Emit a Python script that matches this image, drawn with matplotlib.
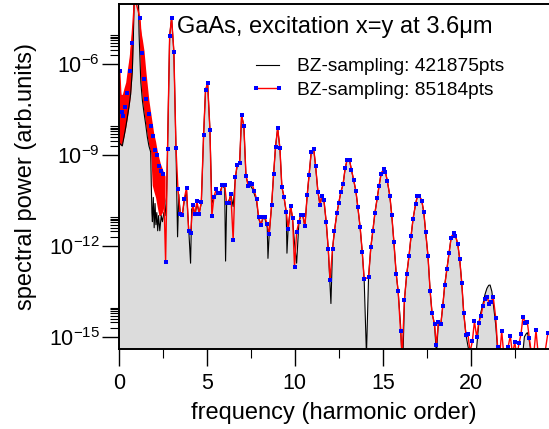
import numpy as np
import matplotlib
matplotlib.use("Agg")
import matplotlib.pyplot as plt
from matplotlib.ticker import FixedLocator, NullFormatter

plt.rcParams['font.family'] = ['Liberation Sans', 'DejaVu Sans']
plt.rcParams['mathtext.fontset'] = 'custom'
plt.rcParams['mathtext.rm'] = 'Liberation Sans'
plt.rcParams['axes.unicode_minus'] = False

# spectrum, 421875 k-points (black, filled); values are log10(power)
black_freq = [0.00, 0.19, 0.38, 0.57, 0.66, 0.76, 0.82, 0.86, 1.10, 1.14, 1.24, 1.33,
              1.42, 1.52, 1.61, 1.70, 1.80, 1.87, 1.90, 1.95, 2.00, 2.05, 2.10, 2.15,
              2.20, 2.25, 2.32, 2.40, 2.47, 2.55, 2.62, 2.70, 2.76, 2.88, 2.99, 3.12,
              3.24, 3.33, 3.40, 3.48, 3.60, 3.71, 3.84, 3.96, 4.07, 4.13, 4.20, 4.32,
              4.43, 4.56, 4.68, 4.81, 4.92, 5.04, 5.17, 5.28, 5.40, 5.53, 5.64, 5.76,
              5.87, 6.01, 6.06, 6.12, 6.25, 6.36, 6.49, 6.61, 6.72, 6.86, 6.97, 7.10,
              7.22, 7.35, 7.46, 7.57, 7.70, 7.82, 7.94, 8.07, 8.18, 8.30, 8.43, 8.47,
              8.54, 8.68, 8.79, 8.90, 9.02, 9.15, 9.26, 9.38, 9.51, 9.55, 9.62, 9.76,
              9.87, 9.98, 10.10, 10.23, 10.34, 10.45, 10.57, 10.70, 10.81, 10.93, 11.07, 11.18,
              11.31, 11.43, 11.53, 11.65, 11.78, 11.90, 12.05, 12.14, 12.25, 12.39, 12.50, 12.61,
              12.74, 12.86, 12.97, 13.11, 13.22, 13.34, 13.47, 13.58, 13.71, 13.83, 13.94, 14.07,
              14.19, 14.32, 14.43, 14.55, 14.68, 14.79, 14.90, 15.04, 15.15, 15.26, 15.40, 15.51,
              15.63, 15.76, 15.87, 16.01, 16.08, 16.15, 16.23, 16.36, 16.49, 16.61, 16.72, 16.86,
              16.97, 17.08, 17.22, 17.33, 17.44, 17.57, 17.69, 17.80, 17.94, 18.05, 18.16, 18.30,
              18.41, 18.52, 18.65, 18.77, 18.88, 19.02, 19.13, 19.26, 19.37, 19.49, 19.60, 19.73,
              19.84, 19.95, 20.30, 20.45, 20.57, 20.70, 20.81, 20.92, 21.02, 21.10, 21.20, 21.30,
              21.42, 21.55, 22.95, 23.05, 23.15, 23.22, 23.32, 23.45, 24.45]
black_log10 = [-8.6, -8.7, -8.1, -7.4, -7.0, -6.2, -5.0, -3.8, -3.8, -5.0, -6.6, -7.2,
               -7.6, -8.0, -8.4, -8.7, -8.9, -10.9, -11.2, -10.4, -11.4, -10.6, -11.3, -10.9,
               -11.5, -11.0, -11.5, -11.0, -11.2, -10.9, -11.0, -10.4, -8.81, -5.08, -4.47, -5.60,
               -8.77, -11.7, -10.3, -10.9, -11.0, -10.5, -10.2, -11.4, -12.57, -10.8, -10.7, -11.0,
               -10.6, -10.9, -10.6, -8.35, -6.86, -6.63, -8.17, -10.6, -10.4, -10.3, -10.3, -10.2,
               -10.0, -10.1, -12.5, -10.6, -10.5, -10.3, -10.7, -9.8, -9.35, -9.25, -7.69, -8.04,
               -9.69, -10.0, -10.0, -10.1, -10.3, -10.5, -11.1, -11.3, -11.1, -11.1, -11.4, -12.41,
               -11.6, -10.64, -9.64, -8.73, -8.12, -8.78, -10.05, -10.38, -10.9, -12.24, -11.4, -10.7,
               -11.1, -11.9, -12.57, -11.21, -10.98, -10.99, -11.35, -10.33, -9.66, -8.90, -8.79, -9.37,
               -10.21, -10.65, -10.35, -10.48, -11.20, -12.11, -13.9, -12.11, -11.50, -10.92, -10.57, -10.23,
               -9.97, -9.44, -9.16, -9.18, -9.50, -9.82, -10.19, -10.72, -11.38, -12.19, -13.10, -15.6,
               -13.03, -12.04, -11.52, -10.92, -10.43, -10.01, -9.63, -9.47, -9.56, -9.87, -10.35, -10.99,
               -11.87, -12.91, -13.48, -14.6, -15.6, -15.6, -13.77, -12.94, -12.33, -11.66, -11.11, -10.63,
               -10.34, -10.34, -10.52, -10.89, -11.55, -12.34, -13.48, -14.22, -14.58, -15.6, -14.52, -14.58,
               -13.98, -13.30, -12.75, -12.24, -11.75, -11.57, -11.66, -11.93, -12.42, -13.23, -14.20, -14.94,
               -15.3, -15.6, -15.6, -14.6, -14.2, -13.9, -13.6, -13.4, -13.3, -13.29, -13.5, -14.0,
               -14.6, -15.6, -15.6, -15.0, -14.9, -14.86, -15.1, -15.6, -15.6]

# spectrum, 85184 k-points (red with blue markers)
red_freq = [0.04, 0.15, 0.23, 0.36, 0.47, 0.61, 0.72, 0.89, 1.19, 1.31, 1.44, 1.55,
            1.69, 1.82, 1.93, 2.05, 2.16, 2.29, 2.40, 2.52, 2.65, 2.76, 2.88, 2.99,
            3.12, 3.24, 3.35, 3.48, 3.60, 3.71, 3.84, 3.96, 4.07, 4.20, 4.32, 4.43,
            4.56, 4.68, 4.81, 4.92, 5.04, 5.17, 5.28, 5.40, 5.53, 5.64, 5.76, 5.87,
            6.01, 6.12, 6.25, 6.36, 6.49, 6.61, 6.72, 6.86, 6.97, 7.10, 7.22, 7.35,
            7.46, 7.57, 7.70, 7.82, 7.94, 8.07, 8.18, 8.30, 8.43, 8.54, 8.68, 8.79,
            8.90, 9.02, 9.15, 9.26, 9.38, 9.51, 9.62, 9.76, 9.87, 9.98, 10.10, 10.23,
            10.34, 10.45, 10.57, 10.70, 10.81, 10.93, 11.07, 11.18, 11.31, 11.43, 11.53, 11.65,
            11.78, 11.90, 12.00, 12.14, 12.25, 12.39, 12.50, 12.61, 12.74, 12.86, 12.97, 13.11,
            13.22, 13.34, 13.47, 13.58, 13.71, 13.83, 13.94, 14.19, 14.32, 14.43, 14.55, 14.68,
            14.79, 14.90, 15.04, 15.15, 15.26, 15.40, 15.51, 15.63, 15.76, 15.87, 16.01, 16.10,
            16.23, 16.36, 16.49, 16.61, 16.72, 16.86, 16.97, 17.08, 17.22, 17.33, 17.44, 17.57,
            17.69, 17.80, 17.94, 18.05, 18.16, 18.30, 18.41, 18.52, 18.65, 18.77, 18.88, 19.02,
            19.13, 19.26, 19.37, 19.49, 19.60, 19.73, 19.84, 19.96, 20.09, 20.21, 20.34, 20.45,
            20.57, 20.70, 20.81, 20.92, 21.06, 21.17, 21.28, 21.42, 21.53, 21.65, 21.76, 21.88,
            22.00, 22.12, 22.25, 22.38, 22.50, 22.62, 22.75, 22.86, 22.97, 23.11, 23.22, 23.33,
            23.46, 23.58, 23.71, 23.84, 23.96, 24.08, 24.20, 24.39]
red_log10 = [-6.22, -7.57, -7.71, -7.43, -6.95, -6.24, -5.32, -3.8, -4.48, -5.65, -6.48, -7.14,
             -7.64, -8.05, -8.38, -8.83, -9.00, -9.37, -9.54, -9.62, -12.52, -8.81, -5.08, -4.47,
             -5.60, -8.77, -10.11, -10.95, -10.98, -10.45, -10.08, -11.51, -11.58, -10.64, -10.95, -10.53,
             -10.94, -10.54, -8.35, -6.86, -6.63, -8.17, -11.00, -10.38, -10.12, -10.24, -10.26, -10.00,
             -10.00, -10.58, -10.59, -10.28, -11.80, -9.74, -9.32, -9.25, -7.69, -8.04, -9.69, -10.02,
             -9.91, -9.96, -10.2, -10.45, -11.05, -11.32, -11.05, -11.05, -11.29, -11.62, -10.64, -9.64,
             -8.73, -8.12, -8.78, -10.05, -10.38, -10.87, -11.45, -10.68, -11.07, -12.70, -11.54, -11.21,
             -10.98, -10.99, -11.35, -10.33, -9.66, -8.90, -8.79, -9.37, -10.21, -10.65, -10.35, -10.48,
             -11.20, -12.11, -13.12, -12.11, -11.50, -10.92, -10.57, -10.23, -9.97, -9.44, -9.16, -9.18,
             -9.50, -9.82, -10.19, -10.72, -11.38, -12.19, -13.10, -13.03, -12.04, -11.52, -10.92, -10.43,
             -10.01, -9.63, -9.47, -9.56, -9.87, -10.35, -10.99, -11.87, -12.91, -13.48, -14.81, -15.6,
             -13.77, -12.94, -12.33, -11.66, -11.11, -10.63, -10.34, -10.34, -10.52, -10.89, -11.55, -12.34,
             -13.48, -14.22, -14.58, -15.27, -14.52, -14.58, -13.98, -13.30, -12.75, -12.24, -11.75, -11.57,
             -11.66, -11.93, -12.42, -13.23, -14.20, -14.94, -14.91, -15.5, -15.15, -14.49, -15.01, -14.54,
             -14.31, -13.98, -13.76, -13.69, -13.90, -13.84, -13.69, -14.37, -15.35, -15.6, -14.80, -15.6,
             -15.6, -15.34, -14.97, -15.6, -15.17, -15.6, -15.21, -14.90, -14.34, -14.54, -14.52, -15.04,
             -15.6, -15.6, -14.78, -15.6, -15.6, -15.6, -15.6, -14.86]

# envelope of the fast red oscillations below harmonic 3
band_freq = [0.00, 0.10, 0.19, 0.28, 0.38, 0.47, 0.57, 0.66, 0.76, 0.82, 0.86, 1.05,
             1.10, 1.14, 1.24, 1.33, 1.42, 1.52, 1.61, 1.70, 1.80, 1.89, 1.98, 2.08,
             2.17, 2.27, 2.36, 2.46, 2.55, 2.62]
band_lo = [-8.6, -8.7, -8.6, -8.4, -8.1, -7.8, -7.4, -7.0, -6.2, -5.0, -3.8, -3.8,
           -3.8, -5.0, -6.6, -7.2, -7.6, -8.0, -8.4, -8.7, -8.9, -10.0, -10.2, -10.4,
           -10.7, -11.0, -11.0, -10.9, -10.7, -10.5]
band_hi = [-6.3, -7.0, -7.0, -6.8, -6.6, -6.2, -5.8, -5.3, -4.7, -3.8, -3.8, -3.8,
           -3.8, -4.4, -4.9, -5.2, -5.55, -6.2, -6.7, -7.2, -7.6, -7.95, -8.3, -8.55,
           -8.85, -9.1, -9.3, -9.45, -9.6, -9.7]

x_major = [0, 5, 10, 15, 20]
x_minor = [2.5, 7.5, 12.5, 17.5, 22.5]
y_decades = [-15, -12, -9, -6]

black_power = 10.0 ** np.array(black_log10)
red_power = 10.0 ** np.array(red_log10)

fig = plt.figure(figsize=(5.49, 4.29), dpi=100)
ax = fig.add_axes([119 / 549, 80 / 429, 430 / 549, 345 / 429])
ax.set_yscale('log')

ax.fill_between(black_freq, black_power, 1e-20, color='#dcdcdc', lw=0)
black_line, = ax.plot(black_freq, black_power, color='black', lw=0.8)
ax.fill_between(band_freq, 10.0 ** np.array(band_lo), 10.0 ** np.array(band_hi),
                color='red', lw=0)
red_line, = ax.plot(red_freq, red_power, color='red', lw=1.0, marker='s', ms=2.6,
                    mfc='blue', mec='blue', mew=0)

ax.set_xlim(0, 24.45)
ax.set_ylim(10 ** -15.4, 10 ** -4.02)

ax.set_xticks(x_major)
ax.xaxis.set_minor_locator(FixedLocator(x_minor))
ax.yaxis.set_major_locator(FixedLocator([10.0 ** k for k in y_decades]))
ax.yaxis.set_minor_locator(FixedLocator([m * 10.0 ** k for k in y_decades for m in range(2, 10)]))
ax.yaxis.set_minor_formatter(NullFormatter())

ax.tick_params(which='major', direction='out', length=12, width=1.0, labelsize=15.5)
ax.tick_params(axis='x', which='major', pad=5)
ax.tick_params(axis='y', which='major', pad=2)
ax.tick_params(which='minor', direction='out', length=6.5, width=0.8)

ax.spines['right'].set_visible(False)
for s in ['left', 'bottom', 'top']:
    ax.spines[s].set_linewidth(1.4)

ax.set_xlabel('frequency (harmonic order)', fontsize=17, labelpad=6)
ax.set_ylabel('spectral power (arb.units)', fontsize=17, labelpad=8)

fig.text(177 / 549, 1 - 27 / 429, 'GaAs, excitation x=y at 3.6\u03bcm',
         fontsize=17, va='center', ha='left')

ax.legend([black_line, red_line],
          ['BZ-sampling: 421875pts', 'BZ-sampling: 85184pts'],
          loc='upper left', bbox_to_anchor=(250 / 549, 1 - 58 / 429),
          bbox_transform=fig.transFigure, frameon=False, fontsize=13.8,
          numpoints=2, handlelength=1.8, handletextpad=0.65,
          borderpad=0, borderaxespad=0, labelspacing=0.3)

fig.savefig('out.png', dpi=100)
